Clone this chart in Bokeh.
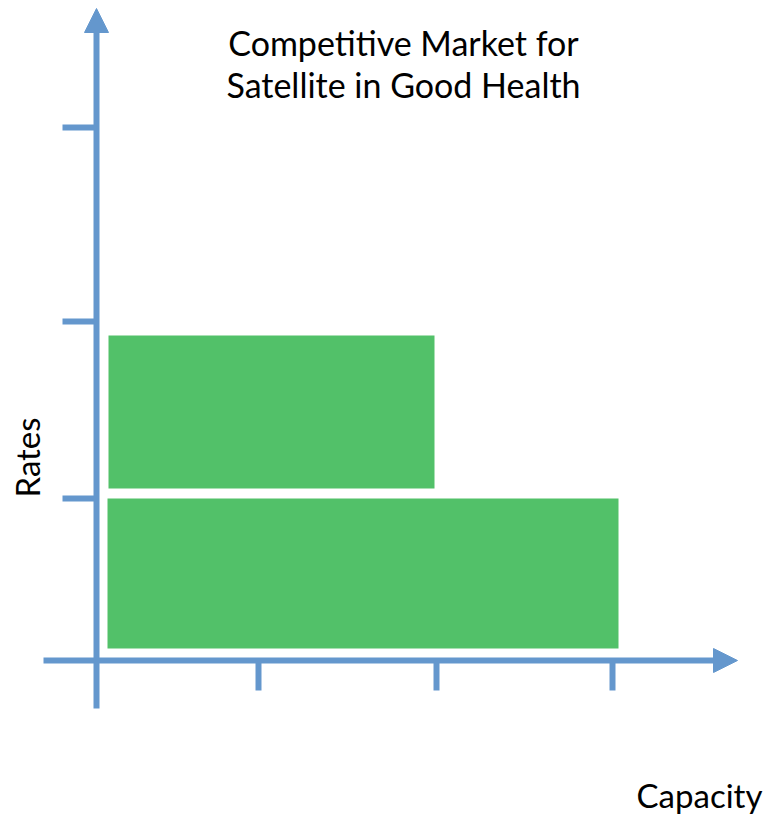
from bokeh.plotting import figure
from bokeh.models import Range1d, Arrow, NormalHead, ColumnDataSource
from bokeh.core.properties import value
from bokeh.embed import file_html
from bokeh.resources import INLINE
import math

# ---- data (units: arbitrary capacity / rate units) ----
capacity_ticks = [1.62, 3.40, 5.16]
rate_ticks = [1.62, 3.39, 5.33]
bar_names = ["upper", "lower"]
bar_left = [0.12, 0.11]
bar_right = [3.38, 5.22]
bar_bottom = [1.72, 0.12]
bar_top = [3.25, 1.62]
title_lines = ["Competitive Market for", "Satellite in Good Health"]
x_label = "Capacity"
y_label = "Rates"

AXIS_COLOR = "#6497CD"
BAR_COLOR = "#52C169"
FONT = "Lato"

p = figure(width=769, height=816, output_backend="svg", toolbar_location=None,
           x_range=Range1d(-0.96, 6.73), y_range=Range1d(-1.56, 6.60),
           min_border=0, min_border_left=0, min_border_right=0,
           min_border_top=0, min_border_bottom=0)
p.xaxis.visible = False
p.yaxis.visible = False
p.grid.visible = False
p.outline_line_color = None
p.background_fill_color = "white"
p.border_fill_color = "white"

# bars
src = ColumnDataSource(dict(name=bar_names, left=bar_left, right=bar_right,
                            bottom=bar_bottom, top=bar_top))
p.quad(left="left", right="right", bottom="bottom", top="top", source=src,
       fill_color=BAR_COLOR, line_color=None)

# axis lines
p.segment(x0=[0, -0.53], y0=[-0.48, 0], x1=[0, 6.19], y1=[6.28, 0],
          line_color=AXIS_COLOR, line_width=6)
# arrow heads
for xs, ys, xe, ye in [(0, 6.20, 0, 6.52), (6.10, 0, 6.41, 0)]:
    p.add_layout(Arrow(x_start=xs, y_start=ys, x_end=xe, y_end=ye,
                       line_alpha=0, line_width=1,
                       end=NormalHead(size=24, fill_color=AXIS_COLOR,
                                      line_color=AXIS_COLOR, line_width=1)))

# tick marks
p.segment(x0=capacity_ticks, y0=[0] * len(capacity_ticks),
          x1=capacity_ticks, y1=[-0.30] * len(capacity_ticks),
          line_color=AXIS_COLOR, line_width=6)
p.segment(x0=[-0.34] * len(rate_ticks), y0=rate_ticks,
          x1=[0] * len(rate_ticks), y1=rate_ticks,
          line_color=AXIS_COLOR, line_width=6)

# title
p.text(x=[3.07, 3.07], y=[6.18, 5.76], text=title_lines,
       text_font=value(FONT), text_font_size="34px", text_color="black",
       text_align="center", text_baseline="middle")
# axis labels
p.text(x=[-0.70], y=[2.03], text=[y_label], angle=math.pi / 2,
       text_font=value(FONT), text_font_size="33px", text_color="black",
       text_align="center", text_baseline="middle")
p.text(x=[6.03], y=[-1.34], text=[x_label],
       text_font=value(FONT), text_font_size="33px", text_color="black",
       text_align="center", text_baseline="middle")

open("out.html", "w").write(file_html(p, INLINE))
